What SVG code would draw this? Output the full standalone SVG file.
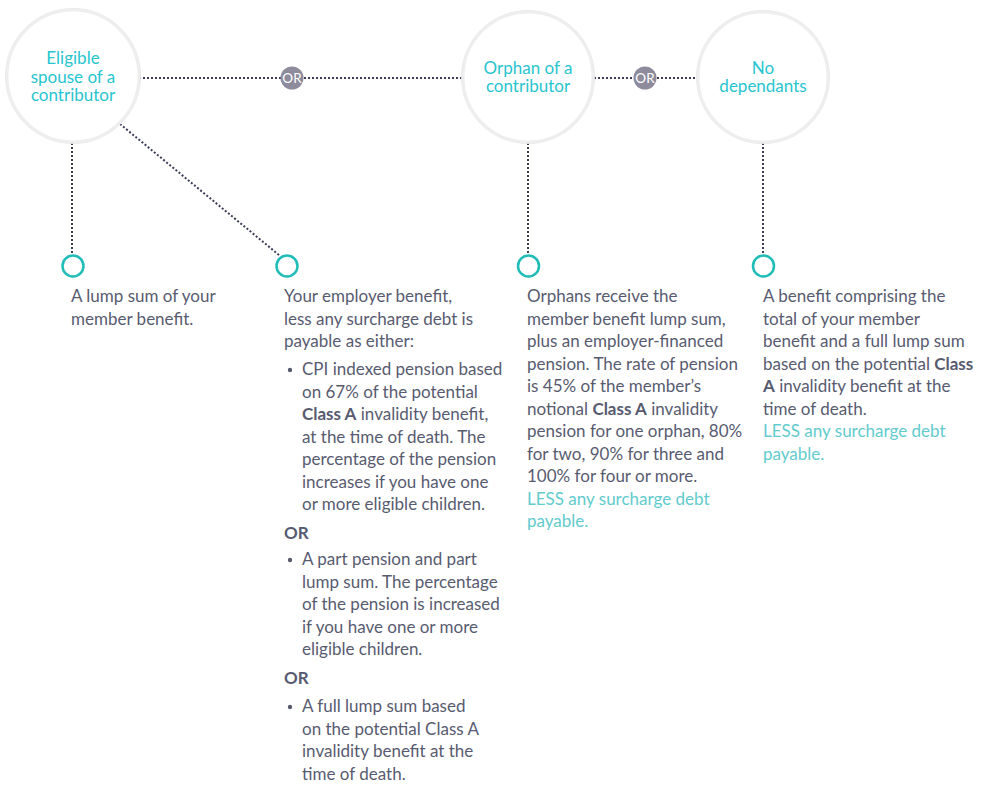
<svg xmlns="http://www.w3.org/2000/svg" width="1000" height="791" viewBox="0 0 1000 791">
<style>
.big{fill:#ffffff;stroke:#efeeee;stroke-width:3}
.bigo{fill:none;stroke:#e0e0e0;stroke-width:0.8}
.lbl{font-family:Lato,"Liberation Sans",sans-serif;font-size:17px;fill:#27c5cf;text-anchor:middle}
.dot{fill:none;stroke:#3b3d58;stroke-width:2;stroke-dasharray:2 2}
.sm{fill:#ffffff;stroke:#1fbcb8;stroke-width:2.5}
.orb{fill:#8d8b9c}
.ort{font-family:Lato,"Liberation Sans",sans-serif;font-size:13.5px;fill:#ffffff;text-anchor:middle}
.t{font-family:Lato,"Liberation Sans",sans-serif;font-size:17px;fill:#585b70}
.b{font-weight:bold}
.less{fill:#62cbcd}
.bul{fill:#585b70}
</style>
<g id="connectors">
<line class="dot" x1="139" y1="78" x2="281" y2="78"/>
<line class="dot" x1="304" y1="78" x2="463" y2="78"/>
<line class="dot" x1="594" y1="78" x2="634" y2="78"/>
<line class="dot" x1="657" y1="78" x2="698" y2="78"/>
<line class="dot" x1="72" y1="143" x2="72" y2="255"/>
<line class="dot" x1="120" y1="124" x2="279" y2="255"/>
<line class="dot" x1="528" y1="143" x2="528" y2="255"/>
<line class="dot" x1="763" y1="143" x2="763" y2="255"/>
<g id="or1"><circle class="orb" cx="292" cy="78" r="11.5"/><text class="ort" x="292" y="83">OR</text></g>
<g id="or2"><circle class="orb" cx="645" cy="78" r="11.5"/><text class="ort" x="645" y="83">OR</text></g>
</g>
<g id="spouse">
<circle class="bigo" cx="73" cy="76" r="67.5"/>
<circle class="big" cx="73" cy="76" r="66"/>
<text class="lbl" x="73" y="64">Eligible</text>
<text class="lbl" x="73" y="82.5">spouse of a</text>
<text class="lbl" x="73" y="101">contributor</text>
</g>
<g id="orphan">
<circle class="bigo" cx="528" cy="77" r="66.5"/>
<circle class="big" cx="528" cy="77" r="65"/>
<text class="lbl" x="528" y="73.5">Orphan of a</text>
<text class="lbl" x="528" y="92">contributor</text>
</g>
<g id="nodep">
<circle class="bigo" cx="763" cy="77" r="66.5"/>
<circle class="big" cx="763" cy="77" r="65"/>
<text class="lbl" x="763" y="73.5">No</text>
<text class="lbl" x="763" y="92">dependants</text>
</g>
<g id="n1">
<circle class="sm" cx="73" cy="266" r="10.5"/>
<text class="t"><tspan x="71" y="302">A lump sum of your</tspan><tspan x="71" y="324.5">member benefit.</tspan></text>
</g>
<g id="n2">
<circle class="sm" cx="287" cy="266" r="10.5"/>
<text class="t"><tspan x="284" y="302">Your employer benefit,</tspan><tspan x="284" y="324.5">less any surcharge debt is</tspan><tspan x="284" y="347">payable as either:</tspan></text>
<circle class="bul" cx="290" cy="370" r="2.2"/>
<text class="t"><tspan x="302" y="375">CPI indexed pension based</tspan><tspan x="302" y="397.5">on 67% of the potential</tspan><tspan x="302" y="420"><tspan class="b">Class A</tspan> invalidity benefit,</tspan><tspan x="302" y="442.5">at the time of death. The</tspan><tspan x="302" y="465">percentage of the pension</tspan><tspan x="302" y="487.5">increases if you have one</tspan><tspan x="302" y="510">or more eligible children.</tspan></text>
<text class="t b" x="284" y="538.5">OR</text>
<circle class="bul" cx="290" cy="560" r="2.2"/>
<text class="t"><tspan x="302" y="565">A part pension and part</tspan><tspan x="302" y="587.5">lump sum. The percentage</tspan><tspan x="302" y="610">of the pension is increased</tspan><tspan x="302" y="632.5">if you have one or more</tspan><tspan x="302" y="655">eligible children.</tspan></text>
<text class="t b" x="284" y="684">OR</text>
<circle class="bul" cx="290" cy="707" r="2.2"/>
<text class="t"><tspan x="302" y="712">A full lump sum based</tspan><tspan x="302" y="734.5">on the potential Class A</tspan><tspan x="302" y="757">invalidity benefit at the</tspan><tspan x="302" y="779.5">time of death.</tspan></text>
</g>
<g id="n3">
<circle class="sm" cx="528.5" cy="266" r="10.5"/>
<text class="t"><tspan x="527" y="302">Orphans receive the</tspan><tspan x="527" y="324.5">member benefit lump sum,</tspan><tspan x="527" y="347">plus an employer-financed</tspan><tspan x="527" y="369.5">pension. The rate of pension</tspan><tspan x="527" y="392">is 45% of the member’s</tspan><tspan x="527" y="414.5">notional <tspan class="b">Class A</tspan> invalidity</tspan><tspan x="527" y="437">pension for one orphan, 80%</tspan><tspan x="527" y="459.5">for two, 90% for three and</tspan><tspan x="527" y="482">100% for four or more.</tspan><tspan class="less" x="527" y="504.5">LESS any surcharge debt</tspan><tspan class="less" x="527" y="527">payable.</tspan></text>
</g>
<g id="n4">
<circle class="sm" cx="763.5" cy="266" r="10.5"/>
<text class="t"><tspan x="763" y="302">A benefit comprising the</tspan><tspan x="763" y="324.5">total of your member</tspan><tspan x="763" y="347">benefit and a full lump sum</tspan><tspan x="763" y="369.5">based on the potential <tspan class="b">Class</tspan></tspan><tspan x="763" y="392"><tspan class="b">A</tspan> invalidity benefit at the</tspan><tspan x="763" y="414.5">time of death.</tspan><tspan class="less" x="763" y="437">LESS any surcharge debt</tspan><tspan class="less" x="763" y="459.5">payable.</tspan></text>
</g>
</svg>
